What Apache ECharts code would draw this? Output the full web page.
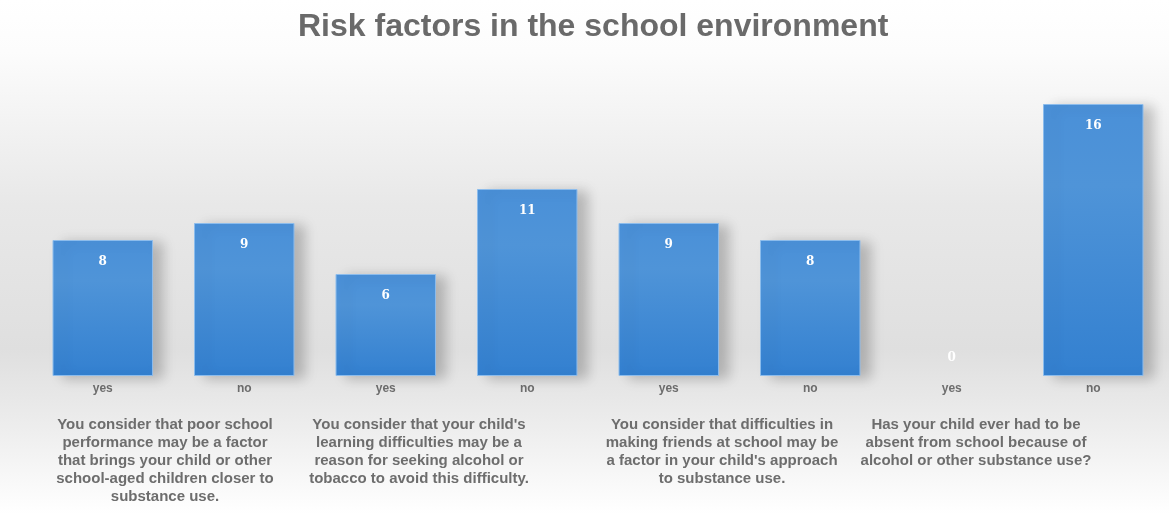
<!DOCTYPE html>
<html>
<head>
<meta charset="utf-8">
<script src="https://cdn.jsdelivr.net/npm/echarts@6/dist/echarts.min.js"></script>
<style>
html,body{margin:0;padding:0;background:#fff;}
#chart{width:1169px;height:514px;}
</style>
</head>
<body>
<div id="chart"></div>
<script>
const titleText = 'Risk factors in the school environment';
const categories = ['yes','no','yes','no','yes','no','yes','no'];
const values = [8, 9, 6, 11, 9, 8, 0, 16];
const groupLabels = [
  "You consider that poor school\nperformance may be a factor\nthat brings your child or other\nschool-aged children closer to\nsubstance use.",
  "You consider that your child's\nlearning difficulties may be a\nreason for seeking alcohol or\ntobacco to avoid this difficulty.",
  "You consider that difficulties in\nmaking friends at school may be\na factor in your child's approach\nto substance use.",
  "Has your child ever had to be\nabsent from school because of\nalcohol or other substance use?"
];
const groupCenters = [165, 419, 722, 976];

const chart = echarts.init(document.getElementById('chart'));
const textColor = '#6d6d6d';
const option = {
  animation: false,
  backgroundColor: new echarts.graphic.LinearGradient(0, 0, 0, 1, [
    {offset: 0, color: '#ffffff'},
    {offset: 0.1, color: '#fcfcfc'},
    {offset: 0.4, color: '#e8e8e8'},
    {offset: 0.68, color: '#dfdfdf'},
    {offset: 0.82, color: '#ececec'},
    {offset: 1, color: '#ffffff'}
  ]),
  title: {
    text: titleText,
    left: 298,
    top: 11,
    padding: 0,
    textStyle: {fontFamily: 'Liberation Sans, Arial, sans-serif', fontSize: 32, fontWeight: 'bold', color: '#6a6a6a'}
  },
  grid: {left: 32, right: 5, top: 104, bottom: 138},
  xAxis: {
    type: 'category',
    data: categories,
    axisLine: {show: false},
    axisTick: {show: false},
    axisLabel: {margin: 7, fontFamily: 'Liberation Sans, Arial, sans-serif', fontSize: 12, fontWeight: 'bold', color: textColor}
  },
  yAxis: {type: 'value', min: 0, max: 16, show: false, splitLine: {show: false}},
  series: [{
    type: 'bar',
    barCategoryGap: '29%',
    data: values.map(v => v === 0 ? {value: v, itemStyle: {borderWidth: 0, color: 'rgba(0,0,0,0)', shadowColor: 'rgba(0,0,0,0)'}, label: {position: 'top', distance: 12}} : v),
    itemStyle: {
      color: new echarts.graphic.LinearGradient(0, 0, 0, 1, [
        {offset: 0, color: '#4a90d8'},
        {offset: 0.3, color: '#4f94d8'},
        {offset: 1, color: '#3380d0'}
      ]),
      borderColor: '#8cbcec',
      borderWidth: 1,
      shadowColor: 'rgba(0,0,0,0.22)',
      shadowBlur: 12,
      shadowOffsetX: 10,
      shadowOffsetY: 2
    },
    label: {
      show: true,
      position: 'insideTop',
      distance: 16,
      color: '#ffffff',
      fontFamily: 'DejaVu Serif, serif',
      fontWeight: 'bold',
      fontSize: 12
    }
  }],
  graphic: groupLabels.map((t, i) => ({
    type: 'text',
    x: groupCenters[i],
    y: 416,
    style: {
      text: t,
      x: 0,
      y: 0,
      textAlign: 'center',
      fontFamily: 'Liberation Sans, Arial, sans-serif',
      fontSize: 15,
      fontWeight: 'bold',
      lineHeight: 18,
      fill: textColor
    }
  }))
};
chart.setOption(option);
</script>
</body>
</html>
